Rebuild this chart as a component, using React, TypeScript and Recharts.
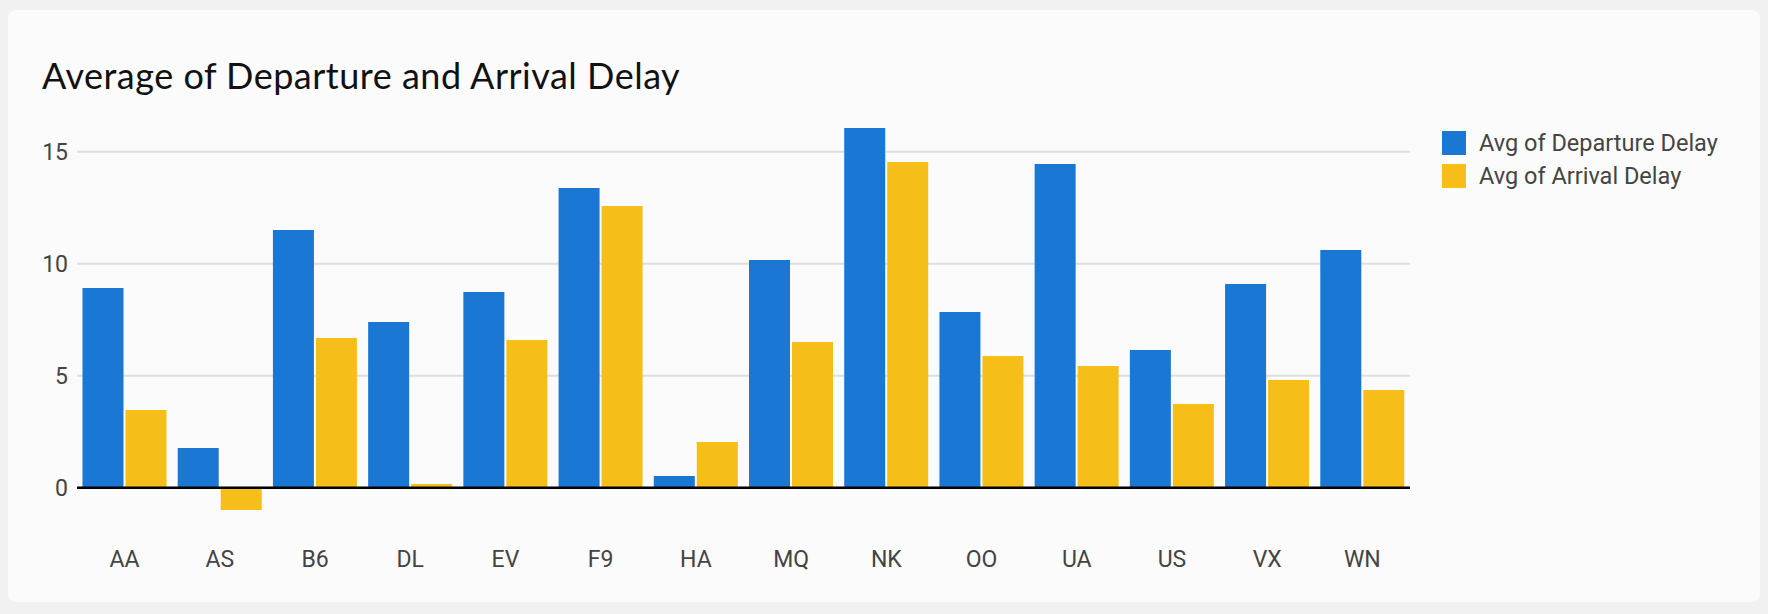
import { BarChart, Bar, XAxis, YAxis, CartesianGrid, ReferenceLine } from 'recharts';

const carriers = ['AA', 'AS', 'B6', 'DL', 'EV', 'F9', 'HA', 'MQ', 'NK', 'OO', 'UA', 'US', 'VX', 'WN'];
const departureDelay = [8.92, 1.77, 11.5, 7.4, 8.74, 13.38, 0.52, 10.17, 16.06, 7.84, 14.45, 6.15, 9.09, 10.61];
const arrivalDelay = [3.47, -1.0, 6.68, 0.17, 6.59, 12.58, 2.04, 6.5, 14.54, 5.88, 5.43, 3.74, 4.81, 4.36];
const yTicks = [0, 5, 10, 15];

const SERIES = [
  { key: 'departure', name: 'Avg of Departure Delay', color: '#1a77d4' },
  { key: 'arrival', name: 'Avg of Arrival Delay', color: '#f6be18' },
];

const data = carriers.map((carrier, i) => ({
  carrier,
  departure: departureDelay[i],
  arrival: arrivalDelay[i],
}));

const AXIS_TEXT = { fontSize: 23, fill: '#444', fontFamily: 'Roboto' };

export default function App() {
  return (
    <div style={{ position: 'fixed', inset: 0, background: '#f1f1f1' }}>
      <div
        style={{
          position: 'absolute',
          left: 8,
          top: 10,
          width: 1752,
          height: 592,
          background: '#fbfbfb',
          borderRadius: 8,
        }}
      />
      <div
        style={{
          position: 'absolute',
          left: 42,
          top: 57,
          fontFamily: 'Lato',
          fontSize: 36,
          lineHeight: '36px',
          letterSpacing: 0.5,
          color: '#111',
          whiteSpace: 'nowrap',
        }}
      >
        Average of Departure and Arrival Delay
      </div>
      <div style={{ position: 'absolute', left: 0, top: 0 }}>
        <BarChart
          width={1768}
          height={614}
          data={data}
          margin={{ top: 118.1, right: 358, bottom: 32.7, left: 0 }}
          barCategoryGap={5.5}
          barGap={2}
        >
          <CartesianGrid vertical={false} horizontalValues={yTicks} stroke="#dedede" strokeWidth={2} />
          <XAxis
            dataKey="carrier"
            axisLine={false}
            tickLine={false}
            tickSize={0}
            tickMargin={29}
            height={60}
            tick={AXIS_TEXT}
            interval={0}
          />
          <YAxis
            domain={[-1.5, 16.5]}
            ticks={yTicks}
            axisLine={false}
            tickLine={false}
            tickSize={0}
            tickMargin={9}
            width={77}
            tick={AXIS_TEXT}
          />
          {SERIES.map((s) => (
            <Bar key={s.key} dataKey={s.key} name={s.name} fill={s.color} isAnimationActive={false} />
          ))}
          <ReferenceLine y={0} stroke="#000" strokeWidth={2.5} />
        </BarChart>
      </div>
      <div style={{ position: 'absolute', left: 1442, top: 131, fontFamily: 'Roboto' }}>
        {SERIES.map((s) => (
          <div key={s.key} style={{ display: 'flex', alignItems: 'center', height: 24, marginBottom: 9 }}>
            <div style={{ width: 24, height: 24, background: s.color, marginRight: 13 }} />
            <span style={{ fontSize: 23.5, color: '#444', whiteSpace: 'nowrap' }}>{s.name}</span>
          </div>
        ))}
      </div>
    </div>
  );
}
